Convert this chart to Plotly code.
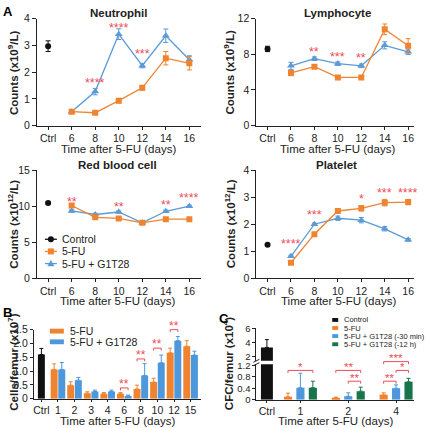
import plotly.graph_objects as go

W = H = 428
def px(v): return v / W
def py(v): return 1 - v / H

FONT = "Liberation Sans, Arial, sans-serif"
ORANGE = "#f0832f"
BLUE = "#5a9ad6"
BLUE_BAR = "#4d97dc"
GREEN = "#18754b"
RED = "#ef4a58"
BLACK = "#111111"
INK = "#222222"

# ---------------- Panel A data ----------------
a_ticktext = ["Ctrl", "6", "8", "10", "12", "14", "16"]
a_ctrl_x = 4
days = [6, 8, 10, 12, 14, 16]

neut_ctrl, neut_ctrl_err = 2.97, 0.2
neut_fu = [0.52, 0.48, 0.93, 1.41, 2.52, 2.33]
neut_fu_err = [0.04, 0.04, 0.08, 0.08, 0.25, 0.25]
neut_g1 = [0.52, 1.27, 3.42, 2.24, 3.36, 2.46]
neut_g1_err = [0.04, 0.12, 0.2, 0.08, 0.25, 0.15]
neut_sig_x = [8, 10, 12]
neut_sig_y = [1.7, 3.76, 2.8]
neut_sig = ["****", "****", "***"]

lymph_ctrl, lymph_ctrl_err = 8.6, 0.3
lymph_fu = [5.9, 6.6, 5.4, 5.4, 10.8, 8.95]
lymph_fu_err = [0.3, 0.2, 0.15, 0.15, 0.6, 0.8]
lymph_g1 = [6.7, 7.5, 6.95, 6.7, 9.0, 8.27]
lymph_g1_err = [0.4, 0.2, 0.2, 0.2, 0.4, 0.3]
lymph_sig_x = [8, 10, 12, 14]
lymph_sig_y = [8.6, 8.05, 7.87, 12.3]
lymph_sig = ["**", "***", "**", "*"]

rbc_ctrl, rbc_ctrl_err = 10.45, 0.15
rbc_fu = [10.1, 8.45, 8.3, 7.7, 8.2, 8.2]
rbc_fu_err = [0.2, 0.15, 0.15, 0.15, 0.15, 0.15]
rbc_g1 = [9.35, 8.85, 9.2, 7.7, 9.3, 10.0]
rbc_g1_err = [0.15, 0.15, 0.15, 0.15, 0.15, 0.15]
rbc_sig_x = [6, 10, 14, 16]
rbc_sig_y = [11.05, 10.3, 10.6, 11.5]
rbc_sig = ["**", "**", "**", "****"]

plt_ctrl, plt_ctrl_err = 1.24, 0.03
plt_fu = [0.57, 1.63, 2.49, 2.59, 2.8, 2.82]
plt_fu_err = [0.04, 0.05, 0.05, 0.1, 0.12, 0.1]
plt_g1 = [0.81, 2.0, 2.22, 2.15, 1.83, 1.42]
plt_g1_err = [0.04, 0.04, 0.08, 0.1, 0.08, 0.05]
plt_sig_x = [6, 8, 12, 14, 16]
plt_sig_y = [1.36, 2.45, 3.06, 3.27, 3.27]
plt_sig = ["****", "***", "*", "***", "****"]

# ---------------- Panel B data ----------------
b_cats = ["Ctrl", "1", "2", "3", "4", "6", "8", "10", "12", "15"]
b_ctrl, b_ctrl_err = 1.6, 0.22
b_fu = [1.06, 0.49, 0.2, 0.18, 0.18, 0.35, 0.6, 1.66, 1.9]
b_fu_err = [0.2, 0.12, 0.05, 0.04, 0.04, 0.14, 0.14, 0.17, 0.2]
b_g1 = [1.06, 0.67, 0.26, 0.26, 0.1, 0.84, 1.3, 2.1, 1.58]
b_g1_err = [0.25, 0.1, 0.05, 0.05, 0.03, 0.43, 0.28, 0.15, 0.14]
b_sig_idx = [5, 6, 7, 8]
b_sig_y = [0.39, 1.44, 1.83, 2.5]
b_sig = ["**", "**", "**", "**"]

# ---------------- Panel C data ----------------
c_cats = ["Ctrl", "1", "2", "4"]
c_ctrl, c_ctrl_err = 3.35, 1.1
c_fu = [0.1, 0.07, 0.17]
c_fu_err = [0.13, 0.02, 0.07]
c_g30 = [0.42, 0.12, 0.4]
c_g30_err = [0.51, 0.12, 0.12]
c_g12 = [0.42, 0.3, 0.63]
c_g12_err = [0.23, 0.14, 0.12]
c_sig_group = [1, 2, 2, 3, 3, 3]
c_sig_from = [0, 0, 1, 0, 1, 0]
c_sig_to = [2, 2, 2, 2, 2, 1]
c_sig_y = [1.03, 1.03, 0.65, 1.34, 1.03, 0.65]
c_sig = ["*", "**", "**", "***", "*", "**"]

fig = go.Figure()

# ---------------- line panels ----------------
def line_panel(n, ctrl, ctrl_err, fu, fu_err, g1, g1_err):
    xa = "x" if n == 1 else f"x{n}"
    ya = "y" if n == 1 else f"y{n}"
    fig.add_trace(go.Scatter(
        x=days, y=g1, xaxis=xa, yaxis=ya, mode="lines+markers",
        line=dict(color=BLUE, width=1.3),
        marker=dict(symbol="triangle-up", size=7, color=BLUE),
        error_y=dict(type="data", array=g1_err, color=BLUE, thickness=1, width=2.5),
        showlegend=False))
    fig.add_trace(go.Scatter(
        x=days, y=fu, xaxis=xa, yaxis=ya, mode="lines+markers",
        line=dict(color=ORANGE, width=1.3),
        marker=dict(symbol="square", size=6, color=ORANGE),
        error_y=dict(type="data", array=fu_err, color=ORANGE, thickness=1, width=2.5),
        showlegend=False))
    fig.add_trace(go.Scatter(
        x=[a_ctrl_x], y=[ctrl], xaxis=xa, yaxis=ya, mode="markers",
        marker=dict(symbol="circle", size=6, color=BLACK),
        error_y=dict(type="data", array=[ctrl_err], color=BLACK, thickness=1, width=2.5),
        showlegend=False))

line_panel(1, neut_ctrl, neut_ctrl_err, neut_fu, neut_fu_err, neut_g1, neut_g1_err)
line_panel(2, lymph_ctrl, lymph_ctrl_err, lymph_fu, lymph_fu_err, lymph_g1, lymph_g1_err)
line_panel(3, rbc_ctrl, rbc_ctrl_err, rbc_fu, rbc_fu_err, rbc_g1, rbc_g1_err)
line_panel(4, plt_ctrl, plt_ctrl_err, plt_fu, plt_fu_err, plt_g1, plt_g1_err)

annotations = []
def stars(n, xs, ys, labels):
    xr = "x" if n == 1 else f"x{n}"
    yr = "y" if n == 1 else f"y{n}"
    for x, y, t in zip(xs, ys, labels):
        annotations.append(dict(x=x, y=y, xref=xr, yref=yr, text=t, showarrow=False,
                                font=dict(family=FONT, size=12.5, color=RED),
                                xanchor="center", yanchor="middle", yshift=-3))

stars(1, neut_sig_x, neut_sig_y, neut_sig)
stars(2, lymph_sig_x, lymph_sig_y, lymph_sig)
stars(3, rbc_sig_x, rbc_sig_y, rbc_sig)
stars(4, plt_sig_x, plt_sig_y, plt_sig)

# ---------------- Panel B ----------------
b_pos = list(range(len(b_cats)))
B_OFF, B_W = 0.23, 0.42
fig.add_trace(go.Bar(
    x=[b_pos[0]], y=[b_ctrl], width=B_W, xaxis="x5", yaxis="y5", marker=dict(color=BLACK, line=dict(width=0)),
    error_y=dict(type="data", symmetric=False, array=[b_ctrl_err], arrayminus=[0], color=BLACK, thickness=1, width=2),
    showlegend=False))
fig.add_trace(go.Bar(
    x=[p - B_OFF for p in b_pos[1:]], y=b_fu, width=B_W, xaxis="x5", yaxis="y5",
    marker=dict(color=ORANGE, line=dict(width=0)),
    error_y=dict(type="data", symmetric=False, array=b_fu_err, arrayminus=[0] * len(b_fu), color=ORANGE, thickness=1, width=2),
    showlegend=False))
fig.add_trace(go.Bar(
    x=[p + B_OFF for p in b_pos[1:]], y=b_g1, width=B_W, xaxis="x5", yaxis="y5",
    marker=dict(color=BLUE_BAR, line=dict(width=0)),
    error_y=dict(type="data", symmetric=False, array=b_g1_err, arrayminus=[0] * len(b_g1), color=BLUE_BAR, thickness=1, width=2),
    showlegend=False))

B_SCALE = (404 - 333) / 2.5  # px per unit
for i, y, t in zip(b_sig_idx, b_sig_y, b_sig):
    x0, x1 = b_pos[i] - B_OFF, b_pos[i] + B_OFF
    leg = 2.5 / B_SCALE
    fig.add_trace(go.Scatter(x=[x0, x0, x1, x1], y=[y - leg, y, y, y - leg], xaxis="x5", yaxis="y8",
                             mode="lines", line=dict(color=RED, width=1), showlegend=False, hoverinfo="skip"))
    annotations.append(dict(x=b_pos[i], y=y, xref="x5", yref="y8", text=t, showarrow=False,
                            font=dict(family=FONT, size=12, color=RED), xanchor="center", yanchor="middle", yshift=4))

# ---------------- Panel C ----------------
c_pos = [0.3, 1, 2, 3]
C_OFF, C_W, C_CW = 0.26, 0.17, 0.25
grp = c_pos[1:]
c_series = [(c_fu, c_fu_err, ORANGE), (c_g30, c_g30_err, BLUE_BAR), (c_g12, c_g12_err, GREEN)]
c_offsets = [-C_OFF, 0, C_OFF]
for yax, with_err in (("y6", False), ("y7", True)):
    fig.add_trace(go.Bar(
        x=[c_pos[0]], y=[c_ctrl], width=C_CW, xaxis="x6", yaxis=yax, marker=dict(color=BLACK, line=dict(width=0)),
        error_y=dict(type="data", symmetric=False, array=[c_ctrl_err], arrayminus=[0], color=BLACK, thickness=1, width=2, visible=with_err),
        showlegend=False))
for (vals, errs, col), off in zip(c_series, c_offsets):
    fig.add_trace(go.Bar(
        x=[g + off for g in grp], y=vals, width=C_W, xaxis="x6", yaxis="y6",
        marker=dict(color=col, line=dict(width=0)),
        error_y=dict(type="data", symmetric=False, array=errs, arrayminus=[0] * len(errs), color=col, thickness=1, width=2),
        showlegend=False))

C_SCALE = (405 - 368.5) / 1.25
for g, a, b, y, t in zip(c_sig_group, c_sig_from, c_sig_to, c_sig_y, c_sig):
    x0, x1 = c_pos[g] + c_offsets[a], c_pos[g] + c_offsets[b]
    leg = 2.5 / C_SCALE
    fig.add_trace(go.Scatter(x=[x0, x0, x1, x1], y=[y - leg, y, y, y - leg], xaxis="x6", yaxis="y9",
                             mode="lines", line=dict(color=RED, width=1), showlegend=False, hoverinfo="skip"))
    annotations.append(dict(x=(x0 + x1) / 2, y=y, xref="x6", yref="y9", text=t, showarrow=False,
                            font=dict(family=FONT, size=11.5, color=RED), xanchor="center", yanchor="middle", yshift=3.5))

# ---------------- axes ----------------
tickfont = dict(family=FONT, size=10.5, color=INK)
ctickfont = dict(family=FONT, size=9.5, color=INK)
def ax(**kw):
    d = dict(showline=True, linecolor=INK, linewidth=1, ticks="outside", ticklen=3, tickwidth=1,
             tickcolor=INK, showgrid=False, zeroline=False, tickfont=tickfont, fixedrange=True)
    d.update(kw)
    return d

a_tickvals = [a_ctrl_x] + days
layout_axes = dict(
    xaxis=ax(domain=[px(36), px(200)], range=[3.05, 16.95], anchor="y", tickvals=a_tickvals, ticktext=a_ticktext),
    yaxis=ax(domain=[py(123), py(13)], range=[0, 4], anchor="x", tickvals=[0, 1, 2, 3, 4], ticklen=4),
    xaxis2=ax(domain=[px(256), px(414)], range=[3.05, 16.5], anchor="y2", tickvals=a_tickvals, ticktext=a_ticktext),
    yaxis2=ax(domain=[py(123), py(13)], range=[0, 12], anchor="x2", tickvals=[0, 4, 8, 12], ticklen=4),
    xaxis3=ax(domain=[px(36), px(200)], range=[3.05, 16.95], anchor="y3", tickvals=a_tickvals, ticktext=a_ticktext),
    yaxis3=ax(domain=[py(280), py(169)], range=[0, 15], anchor="x3", tickvals=[0, 5, 10, 15], ticklen=4),
    xaxis4=ax(domain=[px(256), px(414)], range=[3.05, 16.5], anchor="y4", tickvals=a_tickvals, ticktext=a_ticktext),
    yaxis4=ax(domain=[py(280), py(169)], range=[0, 4], anchor="x4", tickvals=[0, 1, 2, 3, 4], ticklen=4),
    xaxis5=ax(domain=[px(33), px(200)], range=[-0.45, 9.6], anchor="y5", tickvals=b_pos, ticktext=b_cats, ticklen=2),
    yaxis5=ax(domain=[py(404), py(333)], range=[0, 2.5], anchor="x5",
              tickvals=[0, 0.5, 1.0, 1.5, 2.0, 2.5], ticktext=["0", "0.5", "1.0", "1.5", "2.0", "2.5"]),
    xaxis6=ax(domain=[px(256), px(414)], range=[0.08, 3.375], anchor="y6", tickvals=c_pos, ticktext=c_cats, ticklen=2),
    yaxis6=ax(domain=[py(405), py(368.5)], range=[0, 1.25], anchor="x6", tickfont=ctickfont,
              tickvals=[0, 0.4, 0.8, 1.2], ticktext=["0", "0.4", "0.8", "1.2"]),
    yaxis7=ax(domain=[py(365), py(331)], range=[1.45, 6.14], anchor="x6", tickvals=[2, 4, 6], tickfont=ctickfont),
    yaxis8=dict(domain=[py(404), py(312)], range=[0, (404 - 312) / B_SCALE], anchor="x5", visible=False, fixedrange=True),
    yaxis9=dict(domain=[py(405), py(350)], range=[0, (405 - 350) / C_SCALE], anchor="x6", visible=False, fixedrange=True),
)

# ---------------- text ----------------
def text(x, y, t, size=11.5, bold=False, angle=0, xanchor="center", color=INK):
    annotations.append(dict(x=px(x), y=py(y), xref="paper", yref="paper", text=(f"<b>{t}</b>" if bold else t),
                            showarrow=False, textangle=angle, xanchor=xanchor, yanchor="middle",
                            font=dict(family=FONT, size=size, color=color)))

text(118, 7, "Neutrophil", bold=True)
text(337, 7, "Lymphocyte", bold=True)
text(117, 164, "Red blood cell", bold=True)
text(336, 164, "Platelet", bold=True)
for (x, y) in [(118, 147), (337, 147), (117, 304), (338, 304), (117, 427), (335, 427)]:
    text(x, y, "Time after 5-FU (days)", size=11.5)
text(12, 68, "Counts (x10<sup>9</sup>/L)", bold=True, angle=-90)
text(229, 68, "Counts (x10<sup>9</sup>/L)", bold=True, angle=-90)
text(12, 224, "Counts (x10<sup>12</sup>/L)", bold=True, angle=-90)
text(229, 224, "Counts (x10<sup>12</sup>/L)", bold=True, angle=-90)
text(12, 366, "Cells/femur (x10<sup>7</sup>)", bold=True, angle=-90)
text(227, 368, "CFC/femur (x10<sup>4</sup>)", bold=True, angle=-90)
text(0, 6, "A", size=13, bold=True, xanchor="left", color="#000")
text(0, 315, "B", size=13, bold=True, xanchor="left", color="#000")
text(217, 321, "C", size=13, bold=True, xanchor="left", color="#000")

# ---------------- legends (decoration) ----------------
shapes = []
def pshape(**kw):
    d = dict(xref="paper", yref="paper")
    d.update(kw)
    shapes.append(d)

leg_a = [("Control", BLACK, "circle", 240), ("5-FU", ORANGE, "square", 252.5), ("5-FU + G1T28", BLUE, "triangle", 265)]
for label, col, sym, y in leg_a:
    pshape(type="line", x0=px(44), x1=px(56), y0=py(y), y1=py(y), line=dict(color=col, width=1.3))
    common = dict(xsizemode="pixel", ysizemode="pixel", xanchor=px(50), yanchor=py(y), fillcolor=col, line=dict(width=0))
    if sym == "circle":
        pshape(type="circle", x0=-3, x1=3, y0=-3, y1=3, **common)
    elif sym == "square":
        pshape(type="rect", x0=-3, x1=3, y0=-3, y1=3, **common)
    else:
        pshape(type="path", path="M-3.5,-2.8 L3.5,-2.8 L0,3.5 Z", **common)
    text(59, y, label, size=10.5, xanchor="left")

for label, col, y in [("5-FU", ORANGE, 334.5), ("5-FU + G1T28", BLUE_BAR, 345.5)]:
    pshape(type="rect", x0=px(49), x1=px(63), y0=py(y + 2.5), y1=py(y - 2.5), fillcolor=col, line=dict(width=0))
    text(67, y, label, size=10.5, xanchor="left")

leg_c = [("Control", BLACK, 323), ("5-FU", ORANGE, 331.3), ("5-FU + G1T28 (-30 min)", BLUE_BAR, 339.6),
         ("5-FU + G1T28 (-12 h)", GREEN, 348)]
for label, col, y in leg_c:
    pshape(type="rect", x0=px(332), x1=px(338), y0=py(y + 2), y1=py(y - 2), fillcolor=col, line=dict(width=0))
    text(342, y, label, size=7.5, xanchor="left")

# axis break marks on C
for yb in (365, 368.5):
    pshape(type="line", x0=px(253), x1=px(259), y0=py(yb + 1.5), y1=py(yb - 1.5), line=dict(color=INK, width=1))

fig.update_layout(
    width=W, height=H, margin=dict(l=0, r=0, t=0, b=0),
    paper_bgcolor="white", plot_bgcolor="rgba(0,0,0,0)",
    barmode="overlay", showlegend=False,
    annotations=annotations, shapes=shapes,
    font=dict(family=FONT, color=INK),
    **layout_axes,
)

fig.write_html("out.html")
